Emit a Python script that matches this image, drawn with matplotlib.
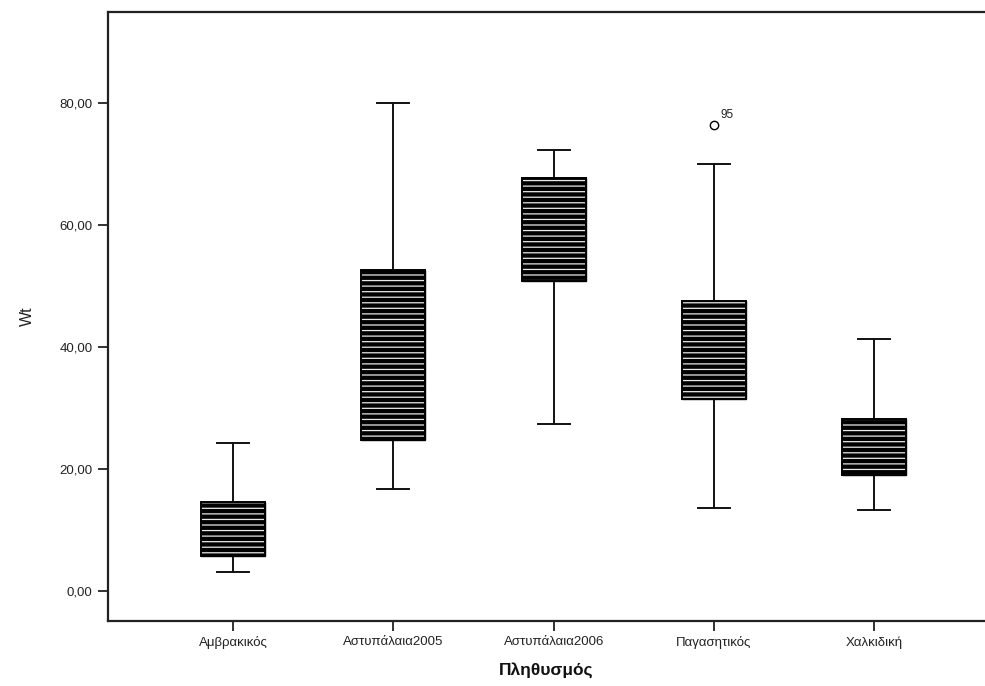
import matplotlib
matplotlib.use("Agg")
import matplotlib.pyplot as plt
from matplotlib.patches import PathPatch

plt.rcParams['font.family'] = ['Liberation Sans', 'DejaVu Sans']
plt.rcParams['hatch.linewidth'] = 0.9

# Five-number summaries of Wt per population
populations = ["Αμβρακικός", "Αστυπάλαια2005", "Αστυπάλαια2006", "Παγασητικός", "Χαλκιδική"]
whisker_low = [3.1, 16.6, 27.4, 13.6, 13.3]
q1 = [5.6, 24.8, 50.8, 31.5, 18.9]
median = [9.0, 31.5, 60.5, 38.3, 22.5]
q3 = [14.5, 52.7, 67.7, 47.6, 28.2]
whisker_high = [24.3, 80.0, 72.4, 70.1, 41.3]
outliers = [[], [], [], [76.4], []]
outlier_ids = [[], [], [], ["95"], []]

y_ticks = [0, 20, 40, 60, 80]

fig = plt.figure(figsize=(9.85, 6.86), dpi=100)
ax = fig.add_axes([108 / 985, 1 - 621 / 686, 1 - 108 / 985, (621 - 12) / 686])

stats = []
for i, name in enumerate(populations):
    stats.append(dict(label=name, whislo=whisker_low[i], q1=q1[i], med=median[i],
                      q3=q3[i], whishi=whisker_high[i], fliers=outliers[i]))

positions = list(range(len(populations)))
res = ax.bxp(stats, positions=positions, widths=0.4, patch_artist=True,
             showfliers=True,
             boxprops=dict(facecolor="black", edgecolor="black", linewidth=1.0),
             medianprops=dict(color="black", linewidth=1.0),
             whiskerprops=dict(color="#111111", linewidth=1.4),
             capprops=dict(color="#111111", linewidth=1.4),
             flierprops=dict(marker="o", markerfacecolor="white",
                             markeredgecolor="black", markersize=6,
                             markeredgewidth=1.0))

# white horizontal stripes over the filled boxes
for box in res["boxes"]:
    stripes = PathPatch(box.get_path(), transform=box.get_transform(),
                        facecolor="none", edgecolor="#e8e8e8", hatch="---",
                        linewidth=0, zorder=box.get_zorder() + 0.1)
    ax.add_patch(stripes)
    outline = PathPatch(box.get_path(), transform=box.get_transform(),
                        facecolor="none", edgecolor="black", linewidth=1.4,
                        zorder=box.get_zorder() + 0.2)
    ax.add_patch(outline)

# case numbers beside outliers
for i, vals in enumerate(outliers):
    for v, lab in zip(vals, outlier_ids[i]):
        ax.annotate(lab, (positions[i], v), xytext=(5, 3), textcoords="offset points",
                    fontsize=8.5, color="#222222", ha="left", va="bottom")

ax.set_xlim(-0.78, 4.69)
ax.set_ylim(-5.0, 95.0)
ax.set_yticks(y_ticks)
ax.set_yticklabels([f"{v:.2f}".replace(".", ",") for v in y_ticks], fontsize=9.5, color="#222222")
ax.set_xticks(positions)
ax.set_xticklabels(populations, fontsize=9.5, color="#222222")
ax.tick_params(axis="both", direction="out", length=7, width=1.3, color="#222222", pad=4)

ax.set_ylabel("Wt", fontsize=11.5, color="#222222", labelpad=18)
ax.set_xlabel("Πληθυσμός", fontsize=12.5, fontweight="bold", color="#111111", labelpad=9)

for side in ("left", "top", "bottom"):
    ax.spines[side].set_linewidth(1.6)
    ax.spines[side].set_color("#222222")
ax.spines["right"].set_visible(False)

fig.savefig("out.png", dpi=100)
